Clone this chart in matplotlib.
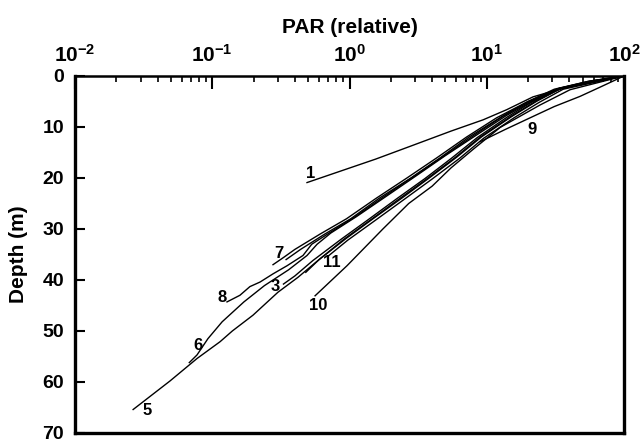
import matplotlib
matplotlib.use('Agg')
import matplotlib.pyplot as plt
from matplotlib.ticker import LogLocator, FixedLocator

FONT = ['Liberation Sans', 'DejaVu Sans']
plt.rcParams['font.family'] = FONT
plt.rcParams['font.weight'] = 'bold'
plt.rcParams['mathtext.fontset'] = 'custom'
plt.rcParams['mathtext.rm'] = 'Liberation Sans:bold'
plt.rcParams['mathtext.bf'] = 'Liberation Sans:bold'
plt.rcParams['mathtext.it'] = 'Liberation Sans:bold'

# PAR (relative) and depth (m)
curves = {}
curves['1'] = ([100, 50, 30, 21.7, 14, 9.4, 5.5, 2.76, 1.55, 0.49],
               [0, 1.5, 3.0, 4.1, 6.6, 8.6, 10.8, 13.8, 16.3, 20.9])
curves['2'] = ([100, 56, 33, 20, 12.8, 7.4, 4.6, 2.8, 1.64, 1.02, 0.66, 0.44, 0.345],
               [0, 1, 2.5, 5, 8, 12, 16, 20, 24, 28, 31, 34, 36])
curves['3'] = ([100, 33, 21.3, 14.0, 8.5, 5.55, 3.55, 2.2, 1.38, 0.87, 0.54, 0.40, 0.33],
               [0, 2.5, 5.1, 8.1, 12.1, 16.1, 20.1, 24.1, 28.1, 32, 36.2, 39.2, 40.8])
curves['4'] = ([100, 35, 23.3, 15.3, 9.2, 6.05, 3.85, 2.42, 1.5, 0.94, 0.6, 0.48],
               [0, 2.4, 4.9, 7.9, 11.9, 15.9, 19.9, 23.9, 27.9, 31.9, 36, 38.5])
curves['5'] = ([100, 34.2, 22.5, 14.8, 8.93, 5.87, 3.73, 2.33, 1.46, 0.912, 0.57, 0.42,
                0.301, 0.198, 0.14, 0.114, 0.0774, 0.0492, 0.0265],
               [0, 2.5, 5, 8, 12, 16, 20, 24, 28, 32, 36.5, 39.5,
                42.4, 46.9, 50, 52.1, 55.4, 59.8, 65.4])
curves['6'] = ([100, 60, 35, 22, 13.8, 8.4, 5.0, 3.05, 1.85, 1.12, 0.73, 0.58, 0.49,
                0.36, 0.24, 0.17, 0.118, 0.093, 0.0774, 0.068],
               [0, 1, 2.4, 4.8, 7.8, 11.6, 15.6, 19.6, 23.6, 27.6, 30.8, 33, 35.2,
                38, 41.1, 44.3, 48.2, 51.5, 54.7, 56.2])
curves['7'] = ([100, 54, 31, 19.3, 11.8, 7.1, 4.35, 2.62, 1.56, 0.95, 0.61, 0.40, 0.33, 0.277],
               [0, 1.1, 2.6, 5.2, 8.2, 12, 16, 20, 24, 28, 31, 34, 35.6, 37.0])
curves['8'] = ([100, 58, 34, 21, 13.1, 7.9, 4.8, 2.9, 1.75, 1.07, 0.71, 0.53, 0.458,
                0.351, 0.277, 0.223, 0.188, 0.159, 0.128],
               [0, 1, 2.4, 4.9, 7.9, 11.8, 15.8, 19.8, 23.8, 27.8, 30.8, 33, 35.2,
                37.2, 38.8, 40.4, 41.3, 43.0, 44.3])
curves['9'] = ([100, 66.8, 47.8, 31, 20.7, 13.6, 8.93],
               [0, 2.2, 4.0, 6.0, 8.2, 10.5, 12.9])
curves['10'] = ([100, 40.4, 24.4, 12.5, 7.94, 5.5, 4.0, 2.7, 1.75, 0.959, 0.561],
                [0, 2.7, 5.7, 10.1, 14.4, 18.0, 21.6, 25.0, 30.0, 37.2, 43.1])
curves['11'] = ([100, 36, 24, 15.8, 9.5, 6.3, 4.0, 2.5, 1.56, 0.97, 0.70],
                [0, 2.6, 5.2, 8.2, 12.2, 16.2, 20.2, 24.2, 28.2, 32.2, 35.3])

# where each station number is written
label_names = ['1', '9', '7', '8', '3', '11', '10', '6', '5']
label_par = [0.525, 21.2, 0.306, 0.118, 0.286, 0.741, 0.589, 0.0787, 0.0333]
label_dep = [19.1, 10.5, 34.9, 43.4, 41.3, 36.5, 45.0, 52.8, 65.6]

depth_ticks = [0, 10, 20, 30, 40, 50, 60, 70]

fig = plt.figure(figsize=(6.44, 4.44), dpi=100)
ax = fig.add_axes([0.1165, 0.0248, 0.8525, 0.8041])

for name, (par, dep) in curves.items():
    ax.plot(par, dep, color='black', lw=1.0)

for name, x, y in zip(label_names, label_par, label_dep):
    ax.text(x, y, name, fontsize=12, fontweight='bold', ha='center', va='center')

ax.set_xscale('log')
ax.set_xlim(1e-2, 1e2)
ax.set_ylim(70, 0)
ax.xaxis.tick_top()
ax.xaxis.set_label_position('top')
ax.xaxis.set_major_locator(LogLocator(base=10, numticks=10))
ax.xaxis.set_minor_locator(LogLocator(base=10, subs=range(2, 10), numticks=10))
ax.yaxis.set_major_locator(FixedLocator(depth_ticks))

ax.tick_params(axis='x', which='major', direction='in', length=9, width=1.5,
               labelsize=15, pad=7, top=True, bottom=False)
ax.tick_params(axis='x', which='minor', direction='in', length=4.5, width=1.2,
               top=True, bottom=False)
ax.tick_params(axis='y', which='major', direction='in', length=7, width=1.5,
               labelsize=14, pad=8, left=True, right=False)
for lab in ax.get_yticklabels():
    lab.set_fontweight('bold')

for side in ['left', 'right', 'bottom']:
    ax.spines[side].set_linewidth(2.4)
ax.spines['top'].set_linewidth(1.8)

ax.set_xlabel('PAR (relative)', fontsize=15, fontweight='bold', labelpad=8)
ax.set_ylabel('Depth (m)', fontsize=15, fontweight='bold', labelpad=10)

fig.savefig('out.png', dpi=100)
